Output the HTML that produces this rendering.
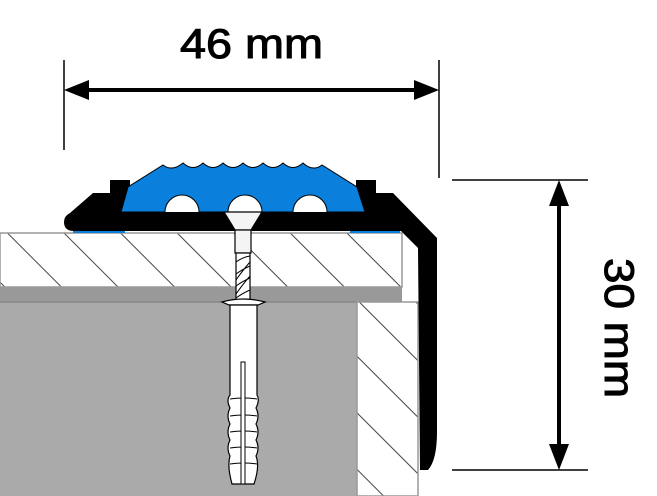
<!DOCTYPE html>
<html><head><style>html,body{margin:0;padding:0;background:#fff}svg{display:block}</style></head>
<body>
<svg width="657" height="496" viewBox="0 0 657 496" xmlns="http://www.w3.org/2000/svg">
<defs>
<pattern id="h" patternUnits="userSpaceOnUse" width="40" height="40" patternTransform="rotate(-45)">
<rect width="40" height="40" fill="#fff"/><line x1="0" y1="0" x2="0" y2="40" stroke="#444" stroke-width="2"/>
</pattern>
</defs>
<rect x="0" y="233" width="402" height="54" fill="url(#h)" stroke="#999" stroke-width="1.5"/>
<rect x="0" y="287" width="402" height="15" fill="#999"/>
<rect x="0" y="302" width="357" height="194" fill="#aaa"/>
<line x1="0" y1="302" x2="357" y2="302" stroke="#888" stroke-width="1.5"/>
<rect x="357" y="302" width="61" height="194" fill="url(#h)" stroke="#999" stroke-width="1.5"/>
<rect x="73" y="229" width="52" height="4" fill="#0a7fdc"/>
<rect x="350" y="229" width="50" height="4" fill="#0a7fdc"/>
<path d="M70,213 L93,193 L110,193 L110,180 L130,180 L130,212 L356,212 L356,180 L376,180 L376,193 L393,193 L437,238 L437,432 Q437,460 428,470 L420,470 L418,248 L401,231 L74,231 Q64,231 64,222 Q64,216 70,213 Z" fill="#000"/>
<path d="M121,212 L128,187 L163,165 Q172,172 183,163 Q193,172 203,163 Q213,172 223,163 Q233,172 243,163 Q253,172 263,163 Q273,172 283,163 Q293,172 303,163 Q313,172 322,165 L357,187 L365,212 L327,212 A17,17 0 0 0 293,212 L262,212 A17,17 0 0 0 228,212 L199,212 A17,17 0 0 0 165,212 Z" fill="#0a7fdc" stroke="#000" stroke-width="1"/>
<path d="M224,212 L262,212 L251,230 L235,230 Z" fill="#f4f4f4" stroke="#000" stroke-width="1.2"/>
<rect x="235" y="230" width="16" height="23" fill="#f4f4f4" stroke="#000" stroke-width="1.2"/>
<rect x="236" y="253" width="14" height="47" fill="#fff" stroke="#000" stroke-width="1.2"/>
<path d="M236,262 Q243,257 250,256 M236,274 Q243,269 250,266 M236,286 Q243,281 250,278 M236,298 Q243,293 250,290 M250,262 Q243,270 236,280 M250,276 Q243,284 236,294" stroke="#000" fill="none" stroke-width="1"/>
<path d="M222,302 Q243,296 265,302 L258,305 L229,305 Z" fill="#fff" stroke="#000" stroke-width="1.2"/>
<path d="M230,305 L257,305 L257,395 Q260,400 256,408 Q260,416 256,424 Q260,432 256,440 Q260,448 256,456 Q260,466 254,484 L232,484 Q227,466 230,456 Q226,448 230,440 Q226,432 230,424 Q226,416 230,408 Q226,400 230,395 Z" fill="#fff" stroke="#000" stroke-width="1.2"/>
<path d="M230,399 Q243,397 257,399 M230,416 Q243,414 257,416 M230,432 Q243,430 257,432 M230,448 Q243,446 257,448 M230,464 Q243,462 257,464" stroke="#000" fill="none" stroke-width="1"/>
<rect x="241" y="362" width="4" height="122" fill="#fff" stroke="#000" stroke-width="1"/>
<line x1="64" y1="60" x2="64" y2="150" stroke="#000" stroke-width="1.5"/>
<line x1="439" y1="60" x2="439" y2="178" stroke="#000" stroke-width="1.5"/>
<line x1="85" y1="90" x2="418" y2="90" stroke="#000" stroke-width="4"/>
<path d="M64,90 L89,80 L89,100 Z M439,90 L414,80 L414,100 Z" fill="#000"/>
<text x="180" y="58" font-family="Liberation Sans, sans-serif" font-size="42" stroke="#000" stroke-width="1" textLength="143" lengthAdjust="spacingAndGlyphs" fill="#000">46 mm</text>
<line x1="452" y1="180" x2="588" y2="180" stroke="#000" stroke-width="1.5"/>
<line x1="452" y1="470" x2="588" y2="470" stroke="#000" stroke-width="1.5"/>
<line x1="559" y1="200" x2="559" y2="450" stroke="#000" stroke-width="4"/>
<path d="M559,180 L549,206 L569,206 Z M559,470 L549,444 L569,444 Z" fill="#000"/>
<text transform="translate(605,258) rotate(90)" x="0" y="0" font-family="Liberation Sans, sans-serif" font-size="42" stroke="#000" stroke-width="1" textLength="140" lengthAdjust="spacingAndGlyphs" fill="#000">30 mm</text>
</svg>
</body></html>
